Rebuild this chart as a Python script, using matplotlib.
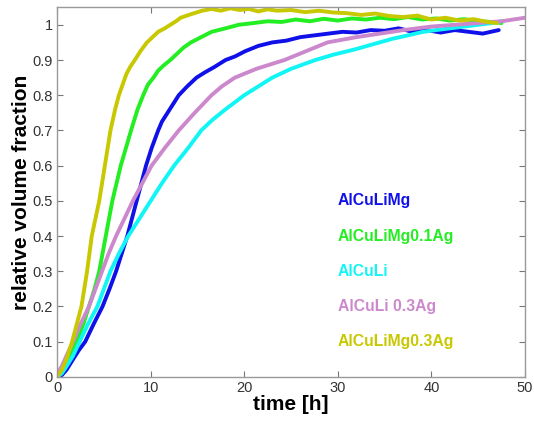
import matplotlib
matplotlib.use("Agg")
import matplotlib.pyplot as plt

# ---- data ----
labels = ["AlCuLiMg", "AlCuLiMg0.1Ag", "AlCuLi", "AlCuLi 0.3Ag", "AlCuLiMg0.3Ag"]
colors = ["#1010e8", "#22ee22", "#11f5f5", "#cc88cc", "#c8c800"]

t_mg = [0, 0.5, 1, 1.7, 2.3, 3.0, 3.9, 4.85, 5.6, 6.3, 6.9, 7.5, 8.0, 8.5, 9.0, 9.5, 10.1, 10.8,
        11.2, 11.8, 12.4, 13.0, 13.9, 14.9, 15.8, 16.8, 18, 19, 20.1, 21.5, 23, 24.5, 26, 27.5, 29,
        30.5, 32, 33.5, 35, 36.5, 38, 39.5, 41, 42.5, 44, 45.5, 47.2]
y_mg = [0, 0.005, 0.02, 0.05, 0.075, 0.10, 0.15, 0.20, 0.25, 0.30, 0.35, 0.40, 0.45, 0.50, 0.55,
        0.60, 0.65, 0.70, 0.725, 0.75, 0.775, 0.80, 0.825, 0.85, 0.865, 0.88, 0.90, 0.91, 0.925,
        0.94, 0.95, 0.955, 0.965, 0.97, 0.975, 0.98, 0.978, 0.985, 0.983, 0.99, 0.98, 0.985, 0.978,
        0.985, 0.98, 0.975, 0.985]

t_mg01 = [0, 0.5, 1, 1.5, 2.1, 2.8, 3.4, 4.0, 4.5, 5.2, 5.9, 6.8, 7.9, 8.6, 9.2, 9.7, 10.3, 10.8,
          11.4, 12.1, 12.7, 13.5, 14.3, 15.4, 16.5, 18, 19.4, 21, 22.5, 24, 25.5, 27, 28.5, 30,
          31.5, 33, 34.5, 36, 37.5, 39, 40.5, 42, 43.5, 45, 46.5, 47.5]
y_mg01 = [0, 0.02, 0.04, 0.07, 0.10, 0.15, 0.20, 0.25, 0.30, 0.40, 0.50, 0.60, 0.70, 0.76, 0.80,
          0.83, 0.85, 0.87, 0.885, 0.90, 0.915, 0.935, 0.95, 0.965, 0.98, 0.99, 1.00, 1.005, 1.01,
          1.008, 1.015, 1.01, 1.017, 1.012, 1.018, 1.015, 1.02, 1.016, 1.022, 1.015, 1.018, 1.012,
          1.016, 1.01, 1.008, 1.005]

t_li = [0, 0.5, 1, 1.7, 2.4, 3.3, 4.3, 5.0, 5.7, 6.6, 7.6, 8.8, 10, 11.2, 12.5, 14, 15.4, 16.6, 18.0,
        19.0, 20.0, 21.5, 23.0, 25, 27.6, 29.5, 31.8, 33.8, 35.8, 37.5, 39.1, 40.5, 42, 43.5, 45,
        46.5, 47.5]
y_li = [0, 0.01, 0.03, 0.06, 0.10, 0.15, 0.20, 0.25, 0.30, 0.35, 0.40, 0.45, 0.50, 0.55, 0.60, 0.65,
        0.70, 0.73, 0.76, 0.78, 0.80, 0.825, 0.85, 0.875, 0.90, 0.915, 0.93, 0.945, 0.96, 0.97,
        0.98, 0.985, 0.99, 0.995, 1.0, 1.005, 1.01]

t_li03 = [0, 0.5, 1, 1.7, 2.5, 3.4, 4.8, 5.5, 6.3, 7.2, 8.1, 9.1, 10.1, 11.5, 13.0, 14.7, 16.5, 17.6,
          19.0, 21.3, 24.3, 26.6, 28.9, 32, 34.5, 37, 40, 42.5, 45, 47.5, 50]
y_li03 = [0.01, 0.03, 0.06, 0.10, 0.15, 0.20, 0.30, 0.35, 0.40, 0.45, 0.50, 0.55, 0.60, 0.65, 0.70,
          0.75, 0.80, 0.825, 0.85, 0.875, 0.90, 0.925, 0.95, 0.965, 0.975, 0.985, 0.995, 1.0, 1.005,
          1.01, 1.02]

t_mg03 = [0, 0.5, 1, 1.6, 2.1, 2.6, 3.2, 3.7, 4.5, 5.1, 5.7, 6.2, 6.6, 7.0, 7.4, 7.8, 8.3, 8.9,
          9.6, 10.2, 10.8, 11.5, 12.1, 12.7, 13.2, 14.3, 15.5, 16.5, 17.5, 18.5, 19.5, 20.5, 21.5,
          22.5, 23.5, 25, 26.5, 28, 29.5, 31, 32.5, 34, 35.5, 37, 38.5, 40, 41.5, 43, 44.5, 46, 47]
y_mg03 = [0, 0.02, 0.05, 0.10, 0.15, 0.20, 0.30, 0.40, 0.50, 0.60, 0.70, 0.76, 0.80, 0.83, 0.86,
          0.88, 0.90, 0.925, 0.95, 0.965, 0.98, 0.99, 1.00, 1.01, 1.02, 1.03, 1.04, 1.045, 1.04,
          1.047, 1.042, 1.045, 1.038, 1.044, 1.04, 1.042, 1.036, 1.04, 1.035, 1.033, 1.028, 1.032,
          1.025, 1.022, 1.026, 1.015, 1.02, 1.012, 1.016, 1.008, 1.005]

series_t = [t_mg, t_mg01, t_li, t_li03, t_mg03]
series_y = [y_mg, y_mg01, y_li, y_li03, y_mg03]

x_ticks = [0, 10, 20, 30, 40, 50]
y_ticks = [0, 0.1, 0.2, 0.3, 0.4, 0.5, 0.6, 0.7, 0.8, 0.9, 1]
y_ticklabels = ["0", "0.1", "0.2", "0.3", "0.4", "0.5", "0.6", "0.7", "0.8", "0.9", "1"]

plt.rcParams['font.family'] = ['Liberation Sans', 'DejaVu Sans']

fig = plt.figure(figsize=(5.34, 4.23), dpi=100)
ax = fig.add_axes([0.107, 0.109, 0.876, 0.874])

for t, y, c in zip(series_t, series_y, colors):
    ax.plot(t, y, color=c, lw=2.8, solid_capstyle='round', solid_joinstyle='round')

ax.set_xlim(0, 50)
ax.set_ylim(0, 1.05)
ax.set_xticks(x_ticks)
ax.set_yticks(y_ticks)
ax.set_yticklabels(y_ticklabels)
ax.tick_params(direction='in', top=True, right=True, length=4, width=0.8,
               colors='#777777', labelcolor='#333333', labelsize=10.5, pad=3)
for s in ax.spines.values():
    s.set_color('#999999')
    s.set_linewidth(1.0)

ax.set_xlabel('time [h]', fontsize=15, fontweight='bold', labelpad=0)
ax.set_ylabel('relative volume fraction', fontsize=15, fontweight='bold', labelpad=1)

label_y = [0.5, 0.4, 0.3, 0.2, 0.1]
for lab, c, yy in zip(labels, colors, label_y):
    ax.text(30, yy, lab, color=c, fontsize=11.3, fontweight='bold', va='center', ha='left')

fig.savefig('out.png', dpi=100)
